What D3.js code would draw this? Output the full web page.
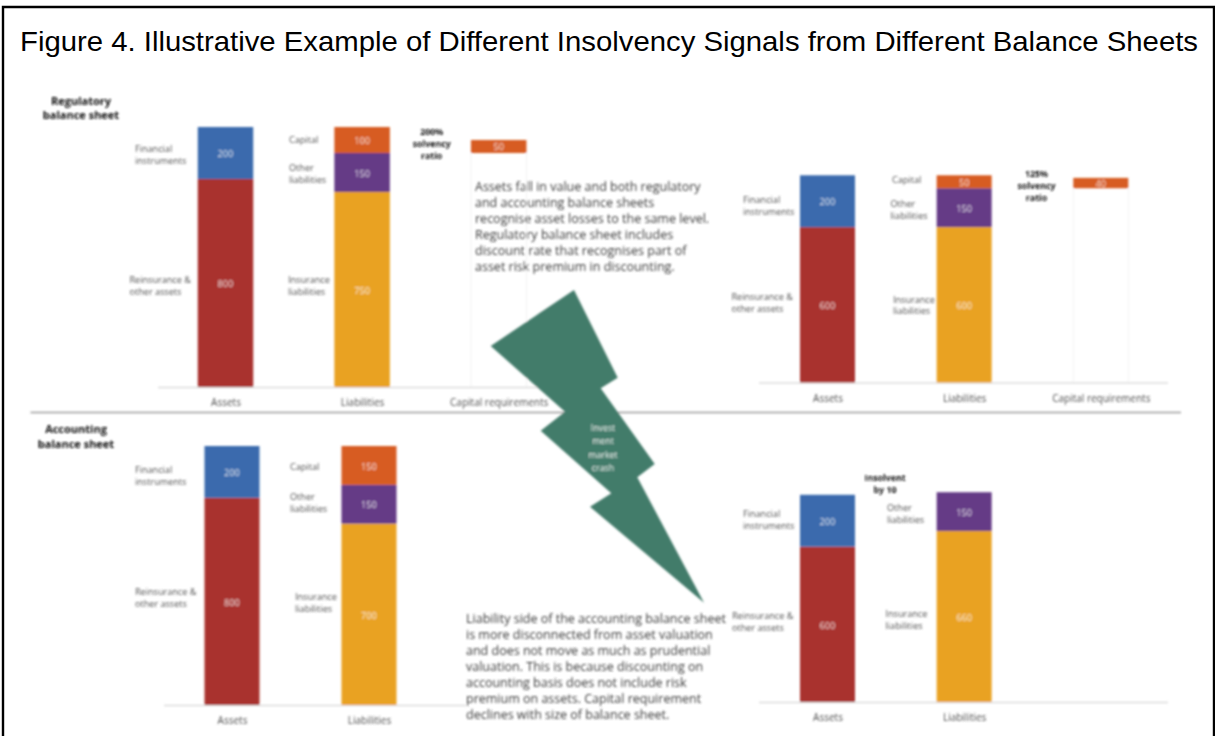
<!DOCTYPE html>
<html>
<head>
<meta charset="utf-8">
<script src="https://cdn.jsdelivr.net/npm/d3@7"></script>
<style>
html,body{margin:0;padding:0;background:#fff;overflow:hidden}
svg{display:block}
.lab{font-family:"Open Sans",sans-serif;font-size:9.1px;fill:#505050}
.val{font-family:"Open Sans",sans-serif;font-size:9.2px;fill:#fff;fill-opacity:.78;text-anchor:middle}
.bold{font-family:"Open Sans",sans-serif;font-weight:700;fill:#111;text-anchor:middle}
.note{font-family:"Open Sans",sans-serif;font-size:12.5px;fill:#3c3c3c}
.axis text{font-family:"Open Sans",sans-serif;font-size:10px;fill:#505050}
</style>
</head>
<body>
<svg id="c" width="1215" height="736"></svg>
<script>
const titleText = "Figure 4. Illustrative Example of Different Insolvency Signals from Different Balance Sheets";
const categories = ["Assets", "Liabilities", "Capital requirements"];

// Stack order is bottom to top
const assetSeries = ["Reinsurance & other assets", "Financial instruments"];
const liabilitySeries = ["Insurance liabilities", "Other liabilities", "Capital"];

const regulatoryBeforeAssets = [800, 200];
const regulatoryBeforeLiabilities = [750, 150, 100];
const regulatoryBeforeRequirement = [900, 50];   // floating start, size

const regulatoryAfterAssets = [600, 200];
const regulatoryAfterLiabilities = [600, 150, 50];
const regulatoryAfterRequirement = [750, 40];    // floating start, size

const accountingBeforeAssets = [800, 200];
const accountingBeforeLiabilities = [700, 150, 150];

const accountingAfterAssets = [600, 200];
const accountingAfterLiabilities = [660, 150];

const noteOne = ["Assets fall in value and both regulatory","and accounting balance sheets","recognise asset losses to the same level.","Regulatory balance sheet includes","discount rate that recognises part of","asset risk premium in discounting."];
const noteTwo = ["Liability side of the accounting balance sheet","is more disconnected from  asset valuation","and does not move as much as prudential","valuation. This is because discounting on","accounting basis does not include risk","premium on assets. Capital requirement","declines with size of balance sheet."];
const crashLabel = ["Invest","ment","market","crash"];

const colors = {
  "Reinsurance & other assets":"#a9322e",
  "Financial instruments":"#3a6bad",
  "Insurance liabilities":"#e9a222",
  "Other liabilities":"#653b86",
  "Capital":"#d75b20",
  "Requirement":"#d75b20"
};

const svg = d3.select("#c");
const defs = svg.append("defs");
defs.append("filter").attr("id","soft")
  .attr("filterUnits","userSpaceOnUse").attr("x",0).attr("y",0).attr("width",1215).attr("height",736)
  .append("feGaussianBlur").attr("stdDeviation",0.8);

svg.append("rect").attr("width",1215).attr("height",736).attr("fill","#fff");
svg.append("path").attr("d","M3,736V7H1214V736").attr("fill","none").attr("stroke","#000").attr("stroke-width",2.4);
svg.append("text").text(titleText).attr("x",20).attr("y",51)
  .attr("font-family","'Liberation Sans',Arial,sans-serif").attr("font-size",28).attr("fill","#000")
  .attr("textLength",1178).attr("lengthAdjust","spacingAndGlyphs");

const art = svg.append("g").attr("filter","url(#soft)");

const panels = [
 {assets:regulatoryBeforeAssets, liabs:regulatoryBeforeLiabilities, req:regulatoryBeforeRequirement,
  x:[225.5,498.7], base:387, unit:.26, width:55.5, axisX:[158,550], axisDy:16,
  labels:[["Financial instruments",135,[149,160.5]],["Reinsurance & other assets",129.5,[280,291.5]],["Capital",289,[140]],["Other liabilities",289,[168,179.5]],["Insurance liabilities",288,[280,291.5]]]},
 {assets:regulatoryAfterAssets, liabs:regulatoryAfterLiabilities, req:regulatoryAfterRequirement,
  x:[827.5,1100.8], base:382.5, unit:.259, width:55, axisX:[759,1168], axisDy:16,
  labels:[["Financial instruments",743,[200,212]],["Reinsurance & other assets",731.5,[296.5,308.5]],["Capital",892,[180]],["Other liabilities",890.5,[204,215.5]],["Insurance liabilities",893,[300,311]]]},
 {assets:accountingBeforeAssets, liabs:accountingBeforeLiabilities, req:null,
  x:[232,506], base:705, unit:.259, width:55, axisX:[164,466], axisDy:16,
  labels:[["Financial instruments",135,[469.5,481.5]],["Reinsurance & other assets",135,[592,604]],["Capital",290,[467]],["Other liabilities",290,[497,508.5]],["Insurance liabilities",295,[597,609]]]},
 {assets:accountingAfterAssets, liabs:accountingAfterLiabilities, req:null,
  x:[827.5,1100.8], base:702, unit:.259, width:55, axisX:[759,1168], axisDy:16,
  labels:[["Financial instruments",743,[514,526]],["Reinsurance & other assets",732,[616,628]],["Other liabilities",887,[508,520]],["Insurance liabilities",885.5,[614,626]]]}
];

function stack(values, names){
  let acc = 0;
  return values.map((v,i)=>{const d={name:names[i],v,y0:acc,y1:acc+v}; acc+=v; return d;});
}

panels.forEach(p=>{
  const x = d3.scalePoint().domain(categories).range(p.x);
  const y = d3.scaleLinear().domain([0,1000]).range([p.base,p.base-1000*p.unit]);
  const g = art.append("g");

  if(p.req){
    const cx = x(categories[2]);
    [-1,1].forEach(s=>g.append("line")
      .attr("x1",cx+s*p.width/2).attr("x2",cx+s*p.width/2)
      .attr("y1",y(p.req[0])).attr("y2",p.base).attr("stroke","#f2f2f2").attr("stroke-width",1));
  }

  g.append("line").attr("x1",p.axisX[0]).attr("x2",p.axisX[1]).attr("y1",p.base+.5).attr("y2",p.base+.5)
    .attr("stroke","#dcdcdc").attr("stroke-width",1.5);

  const cols = [[categories[0],stack(p.assets,assetSeries)],[categories[1],stack(p.liabs,liabilitySeries)]];
  cols.forEach(([cat,segs])=>{
    g.selectAll(null).data(segs).join("rect")
      .attr("x",x(cat)-p.width/2).attr("width",p.width)
      .attr("y",d=>y(d.y1)).attr("height",d=>y(d.y0)-y(d.y1))
      .attr("fill",d=>colors[d.name]);
    g.selectAll(null).data(segs).join("text").attr("class","val")
      .attr("x",x(cat)).attr("y",d=>y((d.y0+d.y1)/2)+4.2).text(d=>d.v);
  });

  if(p.req){
    const [start,size] = p.req, cx = x(categories[2]);
    g.append("rect").attr("x",cx-p.width/2).attr("width",p.width)
      .attr("y",y(start+size)).attr("height",y(start)-y(start+size)).attr("fill",colors.Requirement);
    g.append("text").attr("class","val").attr("x",cx).attr("y",y(start+size/2)+3.6).text(size);
  }

  const axis = d3.axisBottom(x).tickSize(0).tickPadding(0)
    .tickValues(p.req?categories:categories.slice(0,2));
  const ax = g.append("g").attr("class","axis").attr("transform",`translate(0,${p.base+p.axisDy-3.8})`).call(axis);
  ax.select(".domain").remove();
  ax.selectAll("text").attr("dy","0.71em");

  p.labels.forEach(([txt,lx,ys])=>{
    const words = /&/.test(txt)?["Reinsurance &","other assets"]:txt.split(" ");
    ys.forEach((ly,i)=>g.append("text").attr("class","lab").attr("x",lx).attr("y",ly+3).text(words[i]));
  });
});

function boldBlock(lines,cx,ys,size){
  lines.forEach((l,i)=>art.append("text").attr("class","bold").attr("x",cx).attr("y",ys[i]).attr("font-size",size).text(l));
}
boldBlock(["Regulatory","balance sheet"],81,[104.7,119.2],11);
boldBlock(["Accounting","balance sheet"],76,[433,447.7],11);
boldBlock(["200%","solvency","ratio"],431.7,[135,147,158.5],8.8);
boldBlock(["125%","solvency","ratio"],1036.5,[177,189,200.5],8.8);
boldBlock(["Insolvent","by 10"],885,[481,492.5],8.8);

const bolt = [[574,290],[617.7,377.7],[600.7,388.3],[654.7,464],[637.3,477.3],[704,602.7],[590,506.7],[611.3,493.3],[540.7,430.7],[565,411.7],[490.7,346]];
art.append("line").attr("x1",30.5).attr("x2",1181).attr("y1",412.5).attr("y2",412.5).attr("stroke","#9a9a9a").attr("stroke-width",1.6);
art.append("polygon").attr("points",bolt.map(d=>d.join(",")).join(" ")).attr("fill","#437c6a");
crashLabel.forEach((l,i)=>art.append("text").text(l).attr("x",603).attr("y",431+i*13.4)
  .attr("text-anchor","middle").attr("font-family","'Open Sans',sans-serif").attr("font-size",8.8).attr("fill","#e6eeeb"));

noteOne.forEach((l,i)=>art.append("text").attr("class","note").attr("x",475).attr("y",191+i*16).text(l));
noteTwo.forEach((l,i)=>art.append("text").attr("class","note").attr("x",466).attr("y",623+i*16).text(l));
</script>
</body>
</html>
